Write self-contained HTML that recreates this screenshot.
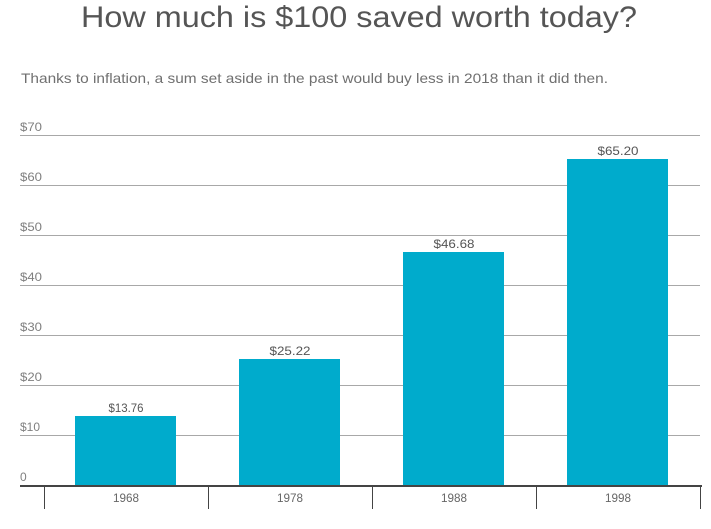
<!DOCTYPE html>
<html>
<head>
<meta charset="utf-8">
<style>
  html, body { margin: 0; padding: 0; background: #ffffff; }
  body { width: 711px; height: 529px; overflow: hidden; }
  svg { display: block; }
  text { font-family: "Liberation Sans", sans-serif; }
</style>
</head>
<body>
<svg width="711" height="529" viewBox="0 0 711 529" xmlns="http://www.w3.org/2000/svg">
  <rect width="711" height="529" fill="#ffffff"/>
  <!-- Title -->
  <text x="81" y="27" font-size="30" fill="#555555" textLength="556" lengthAdjust="spacingAndGlyphs">How much is $100 saved worth today?</text>
  <!-- Subtitle -->
  <text x="21" y="83" font-size="14" fill="#707070" textLength="587" lengthAdjust="spacingAndGlyphs">Thanks to inflation, a sum set aside in the past would buy less in 2018 than it did then.</text>

  <!-- Gridlines -->
  <g stroke="#a8a8a8" stroke-width="1">
    <line x1="20" y1="135.5" x2="700" y2="135.5"/>
    <line x1="20" y1="185.5" x2="700" y2="185.5"/>
    <line x1="20" y1="235.5" x2="700" y2="235.5"/>
    <line x1="20" y1="285.5" x2="700" y2="285.5"/>
    <line x1="20" y1="335.5" x2="700" y2="335.5"/>
    <line x1="20" y1="385.5" x2="700" y2="385.5"/>
    <line x1="20" y1="435.5" x2="700" y2="435.5"/>
  </g>

  <!-- Y labels -->
  <g font-size="12" fill="#808080">
    <text x="20" y="131" textLength="22" lengthAdjust="spacingAndGlyphs">$70</text>
    <text x="20" y="181" textLength="22" lengthAdjust="spacingAndGlyphs">$60</text>
    <text x="20" y="231" textLength="22" lengthAdjust="spacingAndGlyphs">$50</text>
    <text x="20" y="281" textLength="22" lengthAdjust="spacingAndGlyphs">$40</text>
    <text x="20" y="331" textLength="22" lengthAdjust="spacingAndGlyphs">$30</text>
    <text x="20" y="381" textLength="22" lengthAdjust="spacingAndGlyphs">$20</text>
    <text x="20" y="431" textLength="20" lengthAdjust="spacingAndGlyphs">$10</text>
    <text x="20" y="481">0</text>
  </g>

  <!-- Bars -->
  <g fill="#00abcc">
    <rect x="75" y="416" width="101" height="70"/>
    <rect x="239" y="359" width="101" height="127"/>
    <rect x="403" y="252" width="101" height="234"/>
    <rect x="567" y="159" width="101" height="327"/>
  </g>

  <!-- Value labels -->
  <g font-size="12" fill="#555555" text-anchor="middle">
    <text x="126" y="412" textLength="35" lengthAdjust="spacingAndGlyphs">$13.76</text>
    <text x="290" y="355" textLength="41" lengthAdjust="spacingAndGlyphs">$25.22</text>
    <text x="454" y="248" textLength="41" lengthAdjust="spacingAndGlyphs">$46.68</text>
    <text x="618" y="155" textLength="41" lengthAdjust="spacingAndGlyphs">$65.20</text>
  </g>

  <!-- Axis -->
  <line x1="20" y1="486" x2="702" y2="486" stroke="#444444" stroke-width="2"/>
  <g stroke="#444444" stroke-width="1">
    <line x1="44.5" y1="486" x2="44.5" y2="509"/>
    <line x1="208.5" y1="486" x2="208.5" y2="509"/>
    <line x1="372.5" y1="486" x2="372.5" y2="509"/>
    <line x1="536.5" y1="486" x2="536.5" y2="509"/>
    <line x1="700.5" y1="486" x2="700.5" y2="509"/>
  </g>

  <!-- Category labels -->
  <g font-size="12" fill="#666666" text-anchor="middle">
    <text x="126" y="502" textLength="26" lengthAdjust="spacingAndGlyphs">1968</text>
    <text x="290" y="502" textLength="26" lengthAdjust="spacingAndGlyphs">1978</text>
    <text x="454" y="502" textLength="26" lengthAdjust="spacingAndGlyphs">1988</text>
    <text x="618" y="502" textLength="26" lengthAdjust="spacingAndGlyphs">1998</text>
  </g>
</svg>
</body>
</html>
